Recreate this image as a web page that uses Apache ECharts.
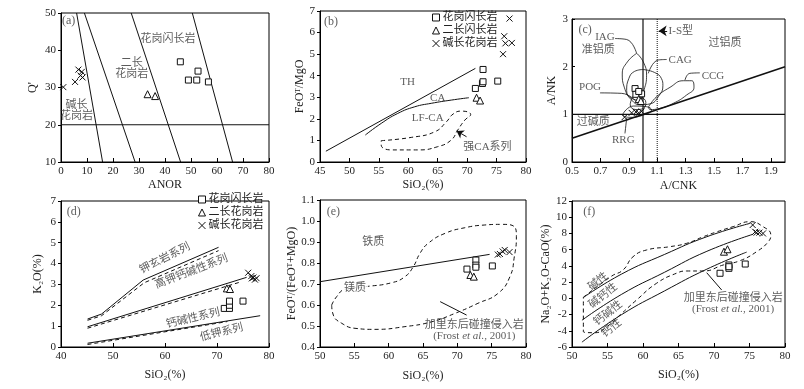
<!DOCTYPE html>
<html>
<head>
<meta charset="utf-8">
<script src="https://cdn.jsdelivr.net/npm/echarts@6/dist/echarts.min.js"></script>
<style>
  html, body { margin: 0; padding: 0; background: #fff; }
  #chart { width: 804px; height: 389px; }
</style>
</head>
<body>
<div id="chart"></div>
<script>
// rock groups (legend names)
var rockNames = ['花岗闪长岩', '二长花岗岩', '碱长花岗岩']

// (a) Q' - ANOR
var anorGranodiorite = [[45.9, 36.9], [49, 32], [52.2, 32], [52.7, 34.4], [56.7, 31.5]]
var anorMonzogranite = [[33.3, 28.2], [36.2, 27.7]]
var anorAlkaliGranite = [[0.9, 30.1], [5.4, 31.5], [6.7, 34.8], [8, 34.2], [8.3, 32.7], [7.5, 33.2]]
var anorBounds = [
  [[6, 50], [16, 10]],
  [[9, 50], [28.5, 10]],
  [[27, 50], [46, 10]],
  [[50.5, 50], [66, 10]],
  [[0, 20], [80, 20]]
]

// (b) FeOT/MgO - SiO2
var feMgGranodiorite = [[72.7, 4.29], [72.6, 3.64], [72.7, 3.72], [71.4, 3.41], [75.2, 3.75]]
var feMgMonzogranite = [[71.6, 2.98], [72.2, 2.85]]
var feMgAlkaliGranite = [[77.2, 6.65], [76.3, 5.83], [76.5, 5.5], [77.6, 5.52], [76.1, 5.0]]
var thLine = [[46, 0.5], [71.4, 4.34]]
var caLine = [[52.7, 1.25], [55.4, 1.79], [58.2, 2.25], [61.1, 2.56], [63.9, 2.72], [67.3, 2.87], [70.3, 2.98]]
var strongCaLoop = [[55.4, 0.99], [60.5, 1.14], [64.5, 1.4], [66.5, 1.87], [67.6, 2.22], [69, 2.36], [70.6, 2.2],
  [69.6, 1.94], [68.4, 1.48], [67.3, 1.02], [65, 0.71], [61.6, 0.56], [57.1, 0.56], [55.4, 0.79], [55.4, 0.99]]
var strongCaArrow = [[69.9, 1.17], [68.2, 1.44]]

// (c) A/NK - A/CNK
var alumGranodiorite = [[0.944, 1.54], [0.967, 1.44], [0.99, 1.43], [0.95, 1.42], [0.97, 1.48]]
var alumMonzogranite = [[0.97, 1.32], [0.985, 1.28]]
var alumAlkaliGranite = [[0.87, 0.94], [0.92, 1.03], [0.95, 1.05], [0.97, 1.03], [0.99, 1.06]]
var iagLoop = [[0.956, 2.28], [1.002, 2.1], [1.025, 1.82], [1.007, 1.51], [0.974, 1.3], [0.92, 1.335], [0.868, 1.57], [0.854, 1.845], [0.89, 2.1], [0.956, 2.28]]
var cagLoop = [[1.0, 1.94], [1.08, 1.88], [1.13, 1.75], [1.14, 1.6], [1.11, 1.38], [1.05, 1.22], [0.98, 1.2], [0.92, 1.3], [0.885, 1.5], [0.9, 1.75], [0.94, 1.9], [1.0, 1.94]]
var ccgLoop = [[1.04, 1.16], [1.096, 1.37], [1.19, 1.566], [1.284, 1.705], [1.343, 1.705], [1.359, 1.566], [1.307, 1.405], [1.213, 1.23], [1.12, 1.125], [1.049, 1.1], [1.04, 1.16]]
var pogLoop = [[0.93, 1.38], [0.98, 1.36], [1.02, 1.25], [1.0, 1.12], [0.95, 1.1], [0.91, 1.2], [0.93, 1.38]]
var rrgLoop = [[0.861, 1.02], [0.932, 1.174], [1.025, 1.16], [1.06, 1.09], [1.002, 0.985], [0.908, 0.937], [0.861, 0.985], [0.861, 1.02]]
var iagLeader = [[0.803, 2.59], [0.885, 2.57], [0.955, 2.28]]
var cagLeader = [[1.167, 2.15], [1.108, 2.14], [1.037, 1.86]]
var ccgLeader = [[1.4, 1.87], [1.33, 1.86], [1.296, 1.72]]
var pogLeader = [[0.697, 1.45], [0.85, 1.44], [0.955, 1.26]]
var rrgLeader = [[0.873, 0.6], [0.885, 0.92]]
var isArrow = [[1.17, 2.75], [1.11, 2.75]]

// (d) K2O - SiO2
var k2oGranodiorite = [[71.4, 1.85], [72.4, 1.85], [72.4, 2.0], [72.4, 2.2], [75, 2.2]]
var k2oMonzogranite = [[71.9, 2.81], [72.5, 2.78]]
var k2oAlkaliGranite = [[76, 3.56], [76.7, 3.29], [77, 3.33], [77.3, 3.23], [76.6, 3.4], [77.6, 3.3]]
var shoshoniteSolid = [[45.1, 1.34], [47.8, 1.58], [55.8, 3.21], [70.3, 4.78]]
var shoshoniteDashed = [[45.1, 1.28], [47.8, 1.5], [56, 3.08], [70.3, 4.62]]
var highKSolid = [[45.1, 0.97], [75.7, 3.34]]
var highKDashed = [[45.1, 0.9], [74.7, 3.13]]
var lowKSolid = [[45.1, 0.18], [78.3, 1.5]]
var lowKDashed = [[45.1, 0.12], [72, 1.22]]

// (e) FeOT/(FeOT+MgO) - SiO2
var feNumGranodiorite = [[71.4, 0.771], [72.7, 0.814], [72.7, 0.79], [72.7, 0.78], [75.1, 0.786]]
var feNumMonzogranite = [[71.9, 0.743], [72.4, 0.735]]
var feNumAlkaliGranite = [[76.2, 0.843], [76.9, 0.862], [77.6, 0.852], [76.6, 0.855], [75.9, 0.84]]
var ferroanLine = [[50, 0.711], [74.7, 0.841]]
var caledonianLoopE = [[51.7, 0.6], [52.43, 0.64], [53.64, 0.675], [56.55, 0.687], [60.43, 0.706], [62.37, 0.735],
  [63.58, 0.782], [64.56, 0.846], [65.77, 0.894], [68.2, 0.941], [71.1, 0.968], [74.0, 0.981], [76.45, 0.984],
  [78.3, 0.973], [78.6, 0.925], [78.3, 0.83], [77.66, 0.735], [75.95, 0.656], [73.0, 0.608], [69.65, 0.56],
  [66.26, 0.52], [62.37, 0.497], [58.0, 0.484], [55.1, 0.489], [53.16, 0.513], [51.94, 0.552], [51.7, 0.6]]
var leaderE = [[67.5, 0.616], [71.35, 0.552]]

// (f) Na2O+K2O-CaO - SiO2
var maliGranodiorite = [[70.85, 3.09], [72.1, 4.11], [72.1, 3.7], [72.1, 3.9], [74.4, 4.23]]
var maliMonzogranite = [[71.4, 5.75], [71.9, 6.05]]
var maliAlkaliGranite = [[75.45, 9.04], [76, 8.1], [76.4, 8.1], [76.9, 8.0], [75.8, 8.2]]
var alkalicLine = [[51.6, 0.1], [57, 3.0], [63, 5.4], [69, 7.6], [75.1, 9.25]]
var alkaliCalcicLine = [[51.4, -2.7], [57, 0.5], [63, 3.2], [69, 5.8], [75.5, 7.9]]
var calcicLine = [[51.4, -5.4], [57, -2.0], [63, 0.9], [69, 3.6], [74.6, 5.7]]
var caledonianLoopF = [[51.6, 0.13], [55.6, 2.75], [57.2, 3.5], [58.6, 5.13], [60.5, 5.96], [63.8, 6.37], [66.15, 6.78],
  [68.5, 7.6], [70.4, 8.2], [72.7, 8.84], [75.07, 9.45], [76.9, 8.84], [78.0, 7.81], [77.65, 6.98], [76.0, 5.75],
  [73.66, 4.64], [71.3, 4.11], [68.5, 3.37], [66.15, 3.37], [64.7, 3.09], [61.9, 1.85], [59.1, -0.2], [56.76, -2.05],
  [54.9, -3.5], [53.24, -4.24], [51.6, -4.11], [51.6, 0.13]]
var leaderF = [[68.97, 3.16], [71.08, 1.03]]

// text notes: [x, y, text, rotate, align, whiteBox]
var notesA = [[0.4, 47.8, '(a)', 0, 'left'], [41.2, 43.0, '花岗闪长岩'], [27.2, 35.1, '二长\n花岗岩'], [6.0, 23.7, '碱长\n花岗岩']]
var notesB = [[45.7, 6.5, '(b)', 0, 'left'], [59.9, 3.72, 'TH'], [65.0, 2.95, 'CA'], [63.3, 2.02, 'LF-CA'], [73.45, 0.71, '强CA系列']]
var notesC = [[0.545, 2.77, '(c)', 0, 'left'], [0.732, 2.61, 'IAG'], [0.685, 2.35, '准铝质'], [1.18, 2.14, 'CAG', 0, 'left'],
  [1.413, 1.8, 'CCG', 0, 'left'], [0.627, 1.57, 'POG'], [0.65, 0.845, '过碱质'], [0.861, 0.46, 'RRG'], [1.577, 2.49, '过铝质'],
  [1.18, 2.75, 'I-S型', 0, 'left']]
var notesD = [[41.1, 6.49, '(d)', 0, 'left'], [60.0, 4.25, '钾玄岩系列', 27], [65.1, 3.61, '高钾钙碱性系列', 21],
  [65.4, 1.37, '钙碱性系列', 13], [70.9, 0.69, '低钾系列', 14]]
var notesE = [[50.97, 1.044, '(e)', 0, 'left'], [57.76, 0.901, '铁质'], [55.1, 0.68, '镁质', 0, 'center', true],
  [72.46, 0.505, '加里东后碰撞侵入岩'], [72.46, 0.454, '(Frost {i|et al.}, 2001)']]
var notesF = [[51.6, 10.68, '(f)', 0, 'left'], [53.7, 2.05, '碱性', 38], [54.4, 0.29, '碱钙性', 38], [55.1, -1.84, '钙碱性', 38],
  [55.6, -3.7, '钙性', 38], [72.7, 0.0, '加里东后碰撞侵入岩'], [72.7, -1.31, '(Frost {i|et al.}, 2001)']]

var SERIF = '"Liberation Serif", "Times New Roman", "Noto Sans CJK SC", serif'
var TXT = '#222'

var myChart = echarts.init(document.getElementById('chart'))

var grids = [
  { left: 61, top: 13, width: 208, height: 149 },
  { left: 320, top: 11, width: 206, height: 151 },
  { left: 572, top: 19, width: 213, height: 143 },
  { left: 61, top: 201, width: 208, height: 146 },
  { left: 320, top: 200, width: 206, height: 147 },
  { left: 572, top: 201, width: 213, height: 146 }
]
grids.forEach(function (g) {
  g.show = true
  g.borderColor = '#000'
  g.borderWidth = 1
  g.backgroundColor = 'transparent'
})

function xAx (i, min, max, step, name, gap, dec, hideMax) {
  return {
    type: 'value', gridIndex: i, min: min, max: max, interval: step,
    name: name, nameLocation: 'middle', nameGap: gap,
    nameTextStyle: { fontFamily: SERIF, fontSize: 12, color: TXT },
    axisLine: { show: true, onZero: false, lineStyle: { color: '#000', width: 1 } },
    axisTick: { show: true, inside: true, length: 4, lineStyle: { color: '#000' } },
    axisLabel: {
      fontFamily: SERIF, fontSize: 11, color: TXT, margin: 4, showMaxLabel: !hideMax,
      formatter: function (v) { return dec ? v.toFixed(dec) : String(Math.round(v)) }
    },
    splitLine: { show: false }
  }
}
function yAx (i, min, max, step, name, gap, dec, inside) {
  return {
    type: 'value', gridIndex: i, min: min, max: max, interval: step,
    name: name, nameLocation: 'middle', nameGap: gap,
    nameTextStyle: { fontFamily: SERIF, fontSize: 12, color: TXT },
    axisLine: { show: true, onZero: false, lineStyle: { color: '#000', width: 1 } },
    axisTick: { show: true, inside: !!inside, length: 3, lineStyle: { color: '#000' } },
    axisLabel: {
      fontFamily: SERIF, fontSize: 11, color: TXT, margin: inside ? 4 : 5,
      formatter: function (v) { return dec ? v.toFixed(dec) : String(Math.round(v)) }
    },
    splitLine: { show: false }
  }
}

var xAxes = [
  xAx(0, 0, 80, 10, 'ANOR', 17),
  xAx(1, 45, 80, 5, 'SiO₂(%)', 17),
  xAx(2, 0.5, 2.0, 0.2, 'A/CNK', 18, 1, true),
  xAx(3, 40, 80, 10, 'SiO₂(%)', 22),
  xAx(4, 50, 80, 5, 'SiO₂(%)', 23),
  xAx(5, 50, 80, 5, 'SiO₂(%)', 22)
]
var yAxes = [
  yAx(0, 10, 50, 10, "Q'", 22),
  yAx(1, 0, 7, 1, 'FeOᵀ/MgO', 13),
  yAx(2, 0, 3, 1, 'A/NK', 14, 0, true),
  yAx(3, 0, 7, 1, 'K₂O(%)', 17),
  yAx(4, 0.4, 1.1, 0.1, 'FeOᵀ/(FeOᵀ+MgO)', 22, 1),
  yAx(5, -6, 12, 2, 'Na₂O+K₂O-CaO(%)', 19)
]

var series = []

function addLine (i, data, type, width, smooth) {
  series.push({
    type: 'line', xAxisIndex: i, yAxisIndex: i, data: data,
    symbol: 'none', showSymbol: false, silent: true, smooth: smooth || false,
    lineStyle: { color: '#111', width: width || 1, type: type === 'dashed' ? [4, 3] : (type || 'solid') },
    z: 2
  })
}
function addArrow (i, data, size) {
  series.push({
    type: 'lines', coordinateSystem: 'cartesian2d', xAxisIndex: i, yAxisIndex: i,
    symbol: ['none', 'arrow'], symbolSize: size || 7, silent: true,
    lineStyle: { color: '#111', width: 1, opacity: 1, curveness: 0 },
    data: [{ coords: data }], z: 3
  })
}
function addNotes (i, items) {
  series.push({
    type: 'scatter', xAxisIndex: i, yAxisIndex: i, symbolSize: 0, silent: true, z: 6,
    label: {
      show: true, position: 'inside', fontFamily: SERIF, fontSize: 11, color: '#333', lineHeight: 11,
      rich: { i: { fontFamily: SERIF, fontSize: 11, fontStyle: 'italic', color: '#333' } }
    },
    data: items.map(function (t) {
      var lab = { formatter: t[2], rotate: t[3] || 0, align: t[4] || 'center', fontSize: /^\([a-f]\)$/.test(t[2]) ? 12 : 11 }
      if (t[5]) {
        lab.backgroundColor = '#fff'
        lab.padding = [1, 2]
      }
      return { value: [t[0], t[1]], label: lab }
    })
  })
}

// reference lines
anorBounds.forEach(function (b) { addLine(0, b) })

addLine(1, thLine)
addLine(1, caLine, 'solid', 1, true)
addLine(1, strongCaLoop, 'dashed', 1, true)
addArrow(1, strongCaArrow, 7)

addLine(2, [[1, 0], [1, 3]], 'solid', 1.2)
addLine(2, [[1.1, 0], [1.1, 3]], 'dotted', 1)
addLine(2, [[0.5, 1], [2, 1]], 'solid', 1.2)
addLine(2, [[0.5, 0.5], [2, 2]], 'solid', 1.6)
;[iagLoop, cagLoop, ccgLoop, pogLoop, rrgLoop].forEach(function (d) { addLine(2, d, 'solid', 0.8, true) })
;[iagLeader, cagLeader, ccgLeader, pogLeader, rrgLeader].forEach(function (d) { addLine(2, d, 'solid', 0.8, true) })
addArrow(2, isArrow, 8)

addLine(3, shoshoniteSolid)
addLine(3, shoshoniteDashed, 'dashed')
addLine(3, highKSolid)
addLine(3, highKDashed, 'dashed')
addLine(3, lowKSolid)
addLine(3, lowKDashed, 'dashed')

addLine(4, ferroanLine)
addLine(4, caledonianLoopE, 'dashed', 1, true)
addLine(4, leaderE)

addLine(5, alkalicLine, 'solid', 1, true)
addLine(5, alkaliCalcicLine, 'solid', 1, true)
addLine(5, calcicLine, 'solid', 1, true)
addLine(5, caledonianLoopF, 'dashed', 1, true)
addLine(5, leaderF)

// sample points
var symbols = ['rect', 'triangle', 'path://M0,0L10,10M10,0L0,10']
var sizes = [6, 7, 6]
var pointSets = [
  [anorGranodiorite, anorMonzogranite, anorAlkaliGranite],
  [feMgGranodiorite, feMgMonzogranite, feMgAlkaliGranite],
  [alumGranodiorite, alumMonzogranite, alumAlkaliGranite],
  [k2oGranodiorite, k2oMonzogranite, k2oAlkaliGranite],
  [feNumGranodiorite, feNumMonzogranite, feNumAlkaliGranite],
  [maliGranodiorite, maliMonzogranite, maliAlkaliGranite]
]
pointSets.forEach(function (set, i) {
  set.forEach(function (d, k) {
    series.push({
      type: 'scatter', name: rockNames[k], xAxisIndex: i, yAxisIndex: i, data: d,
      symbol: symbols[k], symbolSize: sizes[k],
      itemStyle: { color: '#fff', borderColor: '#111', borderWidth: 1, opacity: 1 },
      z: 10
    })
  })
})

addNotes(0, notesA)
addNotes(1, notesB)
addNotes(2, notesC)
addNotes(3, notesD)
addNotes(4, notesE)
addNotes(5, notesF)

function legendAt (left, top, gap, fmt) {
  return {
    data: rockNames, left: left, top: top, orient: 'vertical', padding: 0,
    itemWidth: 7, itemHeight: 7, itemGap: gap, selectedMode: false,
    itemStyle: { color: '#fff', borderColor: '#111', borderWidth: 1 },
    textStyle: { fontFamily: SERIF, fontSize: 11, color: TXT, padding: [0, 0, 0, -2] },
    formatter: fmt
  }
}

myChart.setOption({
  animation: false,
  backgroundColor: '#fff',
  grid: grids,
  xAxis: xAxes,
  yAxis: yAxes,
  legend: [
    legendAt(432, 12, 2, function (n) { return n === '二长花岗岩' ? '二长闪长岩' : n }),
    legendAt(198, 194, 2, function (n) { return n })
  ],
  series: series
})
</script>
</body>
</html>
